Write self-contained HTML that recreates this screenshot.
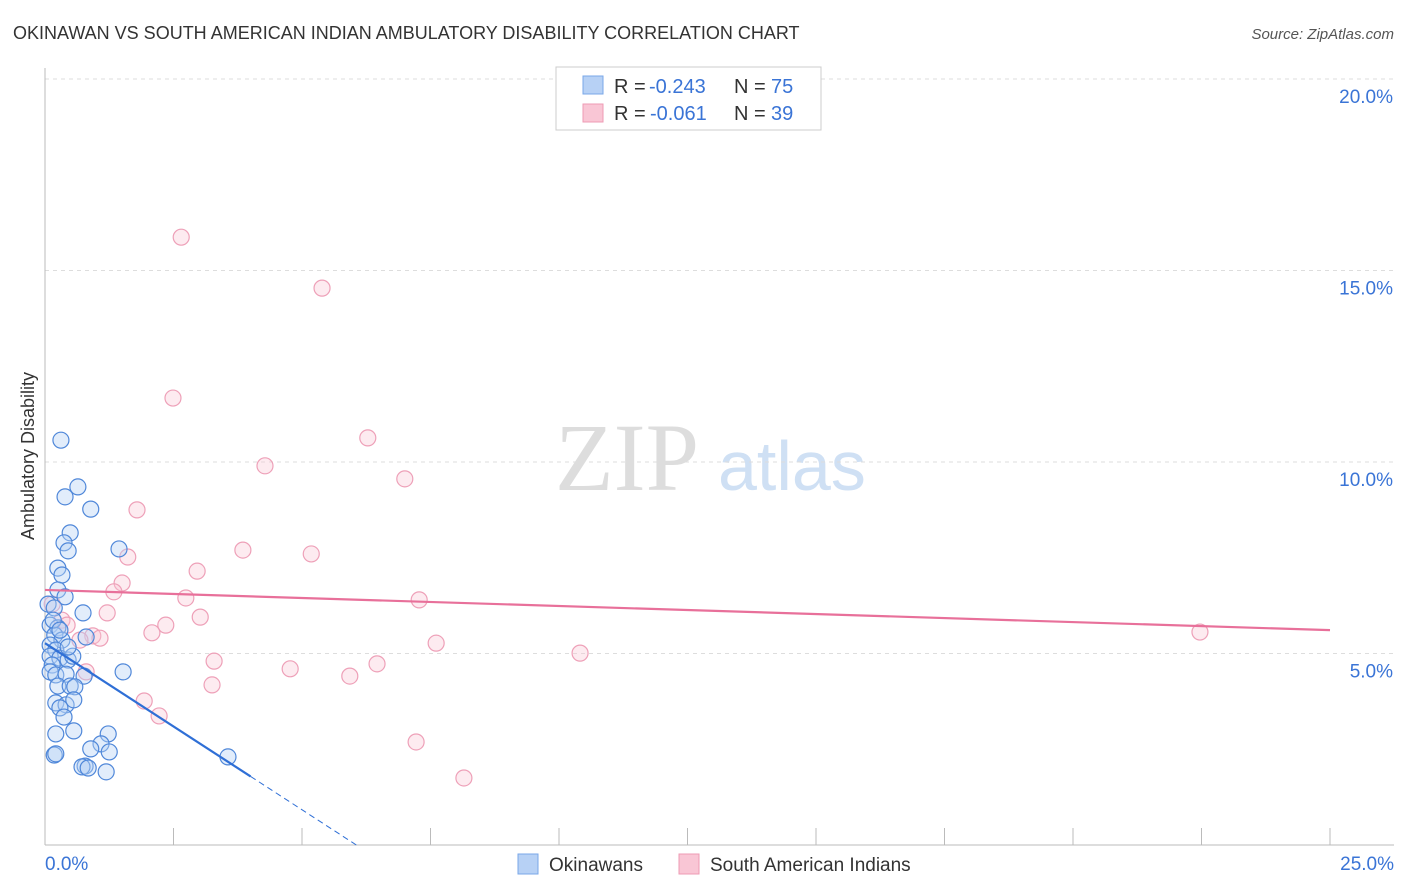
<!DOCTYPE html>
<html><head><meta charset="utf-8"><style>
body{margin:0;background:#fff;font-family:"Liberation Sans",sans-serif}
svg{display:block}
</style></head><body>
<svg id="chart" width="1406" height="892">
<text x="13" y="39" font-size="18" fill="#333">OKINAWAN VS SOUTH AMERICAN INDIAN AMBULATORY DISABILITY CORRELATION CHART</text>
<text x="1394" y="39" font-size="15" fill="#555" font-style="italic" text-anchor="end">Source: ZipAtlas.com</text>
<text x="34" y="456" font-size="18" fill="#333" text-anchor="middle" transform="rotate(-90 34 456)">Ambulatory Disability</text>
<text x="555" y="490" font-size="96" fill="#ddd" font-family="Liberation Serif,serif">ZIP</text>
<text x="718" y="490" font-size="70" fill="#cfe0f4">atlas</text>
<g id="grid"></g><g id="axes"></g><g id="marks"></g>
<g>
<rect x="556" y="67" width="265" height="63" fill="#fff" stroke="#ccc"/>
<rect x="583" y="76" width="20" height="18" fill="#b7d1f5" stroke="#7aa7e8"/>
<rect x="583" y="104" width="20" height="18" fill="#f9c6d5" stroke="#ee9bb4"/>
<text x="614" y="93" font-size="20" fill="#333">R =</text>
<text x="649" y="93" font-size="20" fill="#3a74d6">-0.243</text>
<text x="734" y="93" font-size="20" fill="#333">N =</text>
<text x="771" y="93" font-size="20" fill="#3a74d6">75</text>
<text x="614" y="120" font-size="20" fill="#333">R =</text>
<text x="650" y="120" font-size="20" fill="#3a74d6">-0.061</text>
<text x="734" y="120" font-size="20" fill="#333">N =</text>
<text x="771" y="120" font-size="20" fill="#3a74d6">39</text>
</g>
<g>
<rect x="518" y="854" width="20" height="20" fill="#b7d1f5" stroke="#7aa7e8"/>
<text x="549" y="871" font-size="19" fill="#333">Okinawans</text>
<rect x="679" y="854" width="20" height="20" fill="#f9c6d5" stroke="#ee9bb4"/>
<text x="710" y="871" font-size="19" fill="#333">South American Indians</text>
</g>
</svg>
<script>
const yTicks=[5,10,15,20];
const yTickLabels=["5.0%","10.0%","15.0%","20.0%"];
const blueX=[0.31,0.39,0.64,0.89,0.49,0.37,0.45,1.44,0.25,0.33,0.25,0.39,0.06,0.18,0.74,0.10,0.25,0.19,0.33,0.80,0.10,0.21,0.10,0.29,0.45,0.54,0.14,0.10,0.21,0.41,0.76,1.52,0.25,0.49,0.58,0.21,0.41,0.56,0.29,0.37,0.56,0.21,1.23,1.09,0.89,1.25,0.18,0.21,3.56,0.78,0.72,0.84,1.19,0.16,0.29,0.45];
const blueY=[10.57,9.09,9.35,8.77,8.15,7.89,7.68,7.73,7.23,7.05,6.66,6.48,6.29,6.19,6.06,5.74,5.67,5.48,5.35,5.43,5.22,5.09,4.93,4.88,4.83,4.93,4.70,4.52,4.44,4.46,4.41,4.52,4.15,4.15,4.13,3.71,3.66,3.79,3.58,3.34,2.98,2.90,2.90,2.64,2.51,2.43,2.35,2.38,2.30,2.06,2.04,2.01,1.91,5.87,5.61,5.17];
const pinkX=[2.65,5.39,2.49,6.28,4.28,7.0,1.79,3.85,5.18,1.61,2.96,1.50,1.34,2.74,7.28,0.14,1.21,3.02,0.33,0.43,2.35,2.08,22.47,0.93,1.07,0.68,7.61,10.41,3.29,6.46,4.77,0.80,5.93,3.25,1.93,2.22,7.22,8.15];
const pinkY=[15.87,14.54,11.67,10.63,9.90,9.56,8.75,7.70,7.60,7.52,7.15,6.84,6.61,6.45,6.40,6.29,6.06,5.95,5.87,5.74,5.74,5.54,5.56,5.46,5.40,5.35,5.27,5.01,4.80,4.73,4.60,4.52,4.41,4.18,3.76,3.37,2.69,1.75];
const blueTrend=[5.27,-0.87];
const pinkTrend=[6.66,-0.042];
const NS="http://www.w3.org/2000/svg";
const X=v=>45+v*51.4, Y=v=>845-v*38.3;
function mk(tag,attrs,parent){const e=document.createElementNS(NS,tag);for(const k in attrs)e.setAttribute(k,attrs[k]);document.getElementById(parent).appendChild(e);return e;}
yTicks.forEach((t,i)=>{
 const l=mk('line',{x1:45,x2:1394,y1:Y(t),y2:Y(t),stroke:'#ddd','stroke-dasharray':'4,4'},'grid');
 
 
 const tx=mk('text',{x:1393,y:Y(t)+24,'font-size':19,fill:'#3a74d6','text-anchor':'end'},'axes');
 tx.textContent=yTickLabels[i];
 
 
});
mk('line',{x1:45,x2:45,y1:68,y2:845,stroke:'#bbb'},'axes');
mk('line',{x1:45,x2:1394,y1:845,y2:845,stroke:'#bbb'},'axes');
for(let i=0;i<=10;i++){const t=mk('line',{x1:X(i*2.5),x2:X(i*2.5),y1:828,y2:845,stroke:'#bbb'},'axes');
 
 }
let a=mk('text',{x:45,y:870,'font-size':19,fill:'#3a74d6'},'axes');a.textContent='0.0%';


a=mk('text',{x:1394,y:870,'font-size':19,fill:'#3a74d6','text-anchor':'end'},'axes');a.textContent='25.0%';


pinkX.forEach((x,i)=>{const c=mk('circle',{cx:X(x),cy:Y(pinkY[i]),r:8,fill:'rgba(249,198,213,0.35)',stroke:'#eea0b8','stroke-width':1.2},'marks');
 
 });
blueX.forEach((x,i)=>{const c=mk('circle',{cx:X(x),cy:Y(blueY[i]),r:8,fill:'rgba(183,209,245,0.4)',stroke:'#4f87d9','stroke-width':1.2},'marks');
 
 });
let t=mk('line',{x1:X(0),y1:Y(pinkTrend[0]),x2:X(25),y2:Y(pinkTrend[0]+pinkTrend[1]*25),stroke:'#e8709a','stroke-width':2.2},'marks');


t=mk('line',{x1:X(0),y1:Y(blueTrend[0]),x2:X(4),y2:Y(blueTrend[0]+blueTrend[1]*4),stroke:'#2f6fd6','stroke-width':2.2},'marks');


const xe=blueTrend[0]/-blueTrend[1];
t=mk('line',{x1:X(4),y1:Y(blueTrend[0]+blueTrend[1]*4),x2:X(xe),y2:Y(0),stroke:'#2f6fd6','stroke-width':1,'stroke-dasharray':'6,4'},'marks');


</script>
</body></html>
